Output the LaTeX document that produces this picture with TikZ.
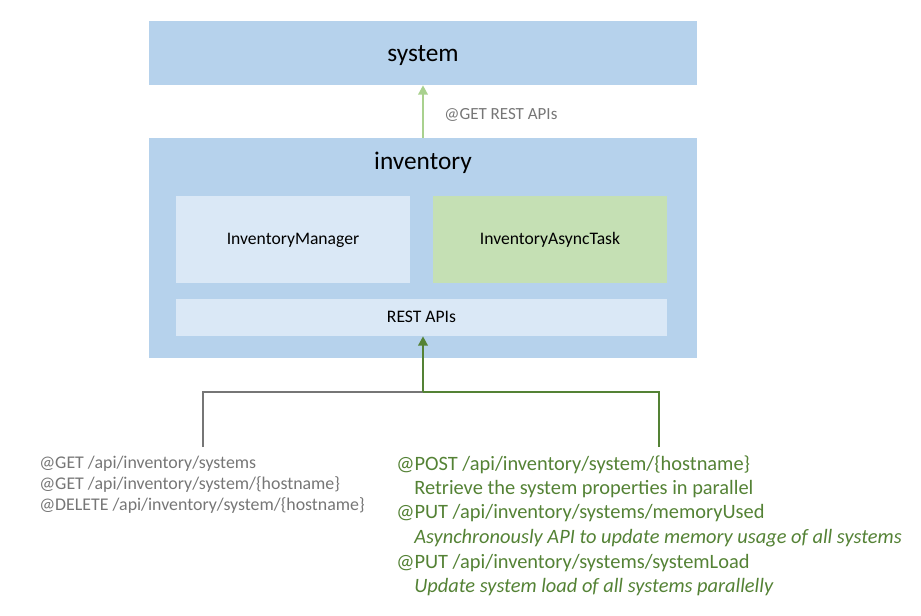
\documentclass[tikz,border=0pt]{standalone}
\usepackage{fontspec}
\setmainfont{Carlito}
\usetikzlibrary{arrows.meta,positioning}
\definecolor{boxblue}{RGB}{182,210,236}
\definecolor{paleblue}{RGB}{218,232,246}
\definecolor{palegreen}{RGB}{197,224,180}
\definecolor{lightgreen}{RGB}{169,209,142}
\definecolor{darkgreen}{RGB}{84,130,53}
\definecolor{midgray}{RGB}{118,118,118}

\begin{document}
\begin{tikzpicture}[x=0.75pt,y=-0.75pt,
      outer/.style={rectangle, fill=boxblue, inner sep=0pt,
                    minimum width=411pt},
      part/.style={rectangle, inner sep=0pt, fill=paleblue,
                   text height=11pt, text depth=3pt,
                   font=\fontsize{13.2}{15}\selectfont},
      title/.style={inner sep=0pt, font=\fontsize{19}{22}\selectfont},
      wire/.style={line width=2pt},
      getline/.style={anchor=base west, inner sep=0pt, text=midgray,
                      font=\fontsize{13.4}{16}\selectfont},
      postline/.style={anchor=base west, inner sep=0pt, text=darkgreen,
                       font=\fontsize{15.3}{18}\selectfont}]
    \useasboundingbox (0,0) rectangle (921,616);
    % services
    \node[outer, minimum height=48pt] (system) at (423,53) {};
    \node[title] (systitle) at (423,56) {system};
    \node[outer, minimum height=165pt] (inventory) at (423,248) {};
    \node[title] (invtitle) at (423,162.5) {inventory};
    % parts of inventory
    \node[part, minimum width=175.5pt, minimum height=65.25pt] (manager) at (293,239.5) {InventoryManager};
    \node[part, fill=palegreen, minimum width=175.5pt, minimum height=65.25pt] (async) at (550,239.5) {InventoryAsyncTask};
    \node[part, minimum width=368.25pt, minimum height=27.75pt] (rest) at (421.5,317.5) {REST APIs};
    % inventory calls system
    \draw[wire, lightgreen, -{Triangle[length=7pt,width=7pt]}] (inventory.north) -- (system.south)
      node[midway, right=15pt, yshift=-2.5pt, inner sep=0pt, text=midgray,
           font=\fontsize{12.75}{15}\selectfont] (getlbl) {@GET REST APIs};
    % client endpoints
    \coordinate (join) at (423,392);
    \coordinate (getend) at (203,447);
    \coordinate (postend) at (659,447);
    \draw[wire, midgray] (getend) |- (join);
    \draw[wire, darkgreen] (postend) |- (join);
    \draw[wire, darkgreen, -{Triangle[length=7pt,width=7pt]}] (join) -- (join |- rest.south);
    % endpoint lists
    \node[getline] (get1) at (39,468) {@GET /api/inventory/systems};
    \node[getline] (get2) at (39,489) {@GET /api/inventory/system/\{hostname\}};
    \node[getline] (get3) at (39,510) {@DELETE /api/inventory/system/\{hostname\}};
    \node[postline] (post1) at (396,470) {@POST /api/inventory/system/\{hostname\}};
    \node[postline] (post2) at (414,494.5) {Retrieve the system properties in parallel};
    \node[postline] (post3) at (396,518.5) {@PUT /api/inventory/systems/memoryUsed};
    \node[postline] (post4) at (414,543.5) {\itshape Asynchronously API to update memory usage of all systems};
    \node[postline] (post5) at (396,568) {@PUT /api/inventory/systems/systemLoad};
    \node[postline] (post6) at (414,592) {\itshape Update system load of all systems parallelly};
  \end{tikzpicture}
\end{document}
